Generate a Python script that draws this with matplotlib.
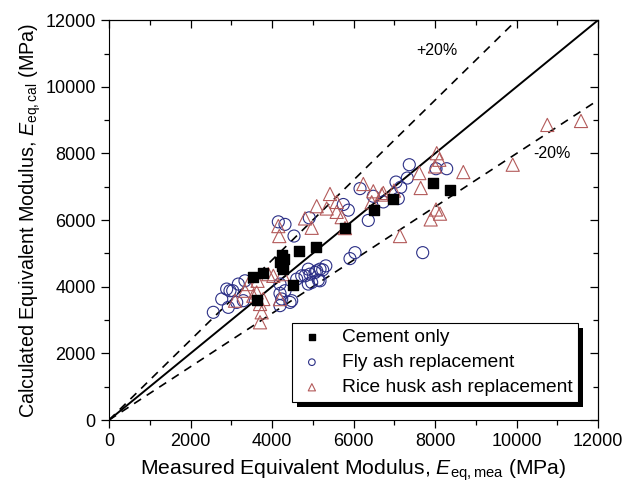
import matplotlib
matplotlib.use("Agg")
from matplotlib import pyplot as plt
from matplotlib.patches import Rectangle

plt.rcParams['font.family'] = ['Liberation Sans', 'DejaVu Sans']
plt.rcParams['mathtext.fontset'] = 'custom'
plt.rcParams['mathtext.rm'] = 'Liberation Sans'
plt.rcParams['mathtext.it'] = 'Liberation Sans:italic'

# measured vs calculated equivalent modulus (MPa)
cement_mea = [3530, 3770, 3630, 4200, 4240, 4300, 4240, 4280, 4520, 4670, 5080, 5790, 6500, 6980, 7960, 8370]
cement_cal = [4290, 4400, 3600, 4730, 4960, 4830, 4620, 4520, 4060, 5070, 5190, 5760, 6290, 6620, 7100, 6890]

fly_mea = [2560, 2766, 2888, 2928, 3036, 3173, 3296, 3337, 3134, 2969, 4196, 4319, 4483, 4196, 4606,
           4729, 4810, 4891, 4933, 4974, 5055, 5097, 5136, 5178, 5178, 5321, 5244, 4891, 4442, 4238,
           4196, 4155, 4319, 4915, 4540, 5750, 5873, 6160, 6486, 6731, 6363, 7099, 7158, 7043, 7320,
           7369, 8025, 8287, 6037, 5914, 7698]
fly_cal = [3233, 3633, 3931, 3382, 3881, 4081, 3582, 4179, 3531, 3881, 4081, 3881, 3582, 3800, 4230,
           4328, 4328, 4528, 4379, 4128, 4427, 4478, 4200, 4528, 4179, 4627, 4507, 4081, 3531, 3633,
           3433, 5949, 5872, 6069, 5522, 6469, 6299, 6946, 6716, 6546, 5991, 6648, 6985, 7143, 7263,
           7663, 7543, 7543, 5024, 4845, 5024]

rice_mea = [3092, 3337, 3418, 3541, 3645, 3624, 3706, 3747, 3706, 3787, 3909, 4032, 4260, 4196,
            4155, 4179, 4810, 4974, 5097, 5342, 5423, 5587, 5587, 5710, 6241, 6446, 6486, 6692,
            5791, 6731, 6994, 7615, 7649, 8000, 8042, 8106, 8695, 8123, 8025, 7894, 7141,
            9907, 10756, 11583]
rice_cal = [3582, 3881, 4081, 3731, 4179, 3830, 3483, 3233, 2934, 3633, 4379, 4328, 4379, 3630,
            5821, 5522, 6051, 5770, 6418, 6349, 6785, 6546, 6248, 6090, 7084, 6537, 6866, 6767,
            5761, 6815, 6887, 7412, 6964, 7612, 8009, 7812, 7442, 6194, 6319, 6021, 5522,
            7663, 8857, 8976]

line_x = [0, 12000]
upper_x = [0, 10000]
lower_x = [0, 12000]

fig = plt.figure(figsize=(6.25, 4.93), dpi=100)
ax = fig.add_axes([0.1744, 0.148, 0.7824, 0.811])

ax.plot(line_x, line_x, color='k', lw=1.4, zorder=2)
ax.plot(upper_x, [v * 1.2 for v in upper_x], color='k', lw=1.2, dashes=(5, 4), zorder=2)
ax.plot(lower_x, [v * 0.8 for v in lower_x], color='k', lw=1.2, dashes=(5, 4), zorder=2)

ax.scatter(fly_mea, fly_cal, s=75, marker='o', facecolors='none', edgecolors='#2b2f86', linewidths=0.8,
           label='Fly ash replacement', zorder=3)
ax.scatter(rice_mea, rice_cal, s=90, marker='^', facecolors='none', edgecolors='#b35a5a', linewidths=0.8,
           label='Rice husk ash replacement', zorder=3)
ax.scatter(cement_mea, cement_cal, s=44, marker='s', color='k', label='Cement only', zorder=4)

ax.text(8050, 11100, '+20%', fontsize=11.5, ha='center', va='center')
ax.text(10860, 8000, '-20%', fontsize=11.5, ha='center', va='center')

ax.set_xlim(0, 12000)
ax.set_ylim(0, 12000)
ax.set_xticks(range(0, 12001, 2000))
ax.set_yticks(range(0, 12001, 2000))
ax.set_xticks(range(1000, 12000, 2000), minor=True)
ax.set_yticks(range(1000, 12000, 2000), minor=True)
ax.tick_params(which='both', direction='out', labelsize=13, width=0.9)
ax.tick_params(which='major', length=6)
ax.tick_params(which='minor', length=3.5)

top = ax.secondary_xaxis('top')
top.set_xticks(range(0, 12001, 2000))
top.set_xticks(range(1000, 12000, 2000), minor=True)
top.tick_params(which='both', direction='in', labeltop=False, width=0.9)
top.tick_params(which='major', length=6)
top.tick_params(which='minor', length=3.5)
right = ax.secondary_yaxis('right')
right.set_yticks(range(0, 12001, 2000))
right.set_yticks(range(1000, 12000, 2000), minor=True)
right.tick_params(which='both', direction='in', labelright=False, width=0.9)
right.tick_params(which='major', length=6)
right.tick_params(which='minor', length=3.5)

ax.set_xlabel('Measured Equivalent Modulus, $\\mathit{E}_{\\mathrm{eq,mea}}$ (MPa)', fontsize=15.2, labelpad=5)
ax.set_ylabel('Calculated Equivalent Modulus, $\\mathit{E}_{\\mathrm{eq,cal}}$ (MPa)', fontsize=14.2, labelpad=2)

handles, labels = ax.get_legend_handles_labels()
order = [2, 0, 1]
leg = ax.legend([handles[i] for i in order], [labels[i] for i in order],
                loc='lower right', bbox_to_anchor=(0.959, 0.045), borderaxespad=0, fontsize=13.8,
                fancybox=False, edgecolor='k', framealpha=1, markerscale=0.55,
                handlelength=1.5, handletextpad=0.8, borderpad=0.3, labelspacing=0.4)
leg.get_frame().set_linewidth(0.8)
leg.set_zorder(6)

# black drop shadow behind the legend
fig.canvas.draw()
bb = leg.get_window_extent().transformed(fig.transFigure.inverted())
dx, dy = 5 / 625, 5 / 493
ax.add_patch(Rectangle((bb.x0 + dx, bb.y0 - dy), bb.width, bb.height, transform=fig.transFigure,
                       facecolor='k', edgecolor='none', zorder=5, clip_on=False))

plt.savefig("out.png", dpi=100)
